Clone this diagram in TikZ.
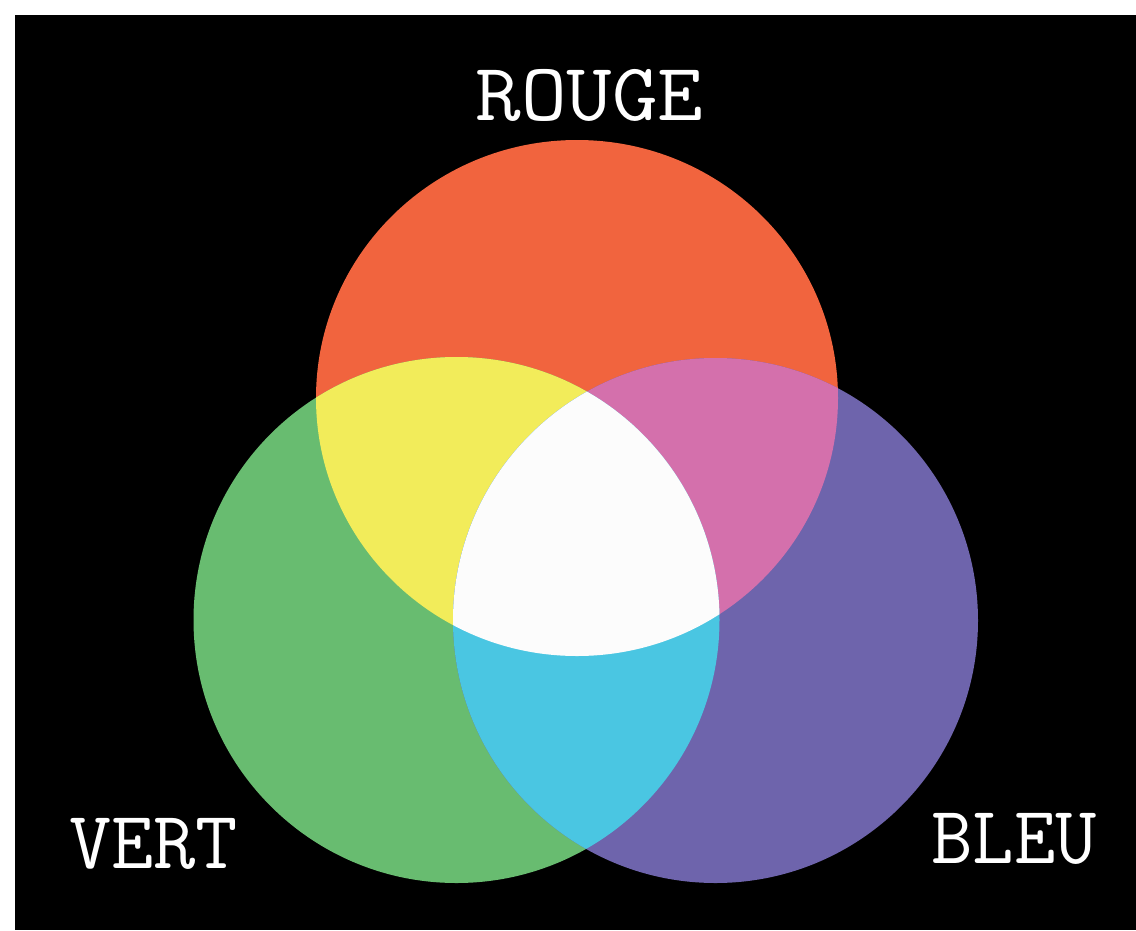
\documentclass[tikz,border=0pt]{standalone}
\usepackage{fontspec}
\begin{document}
\begin{tikzpicture}[x=1pt,y=-1pt,
  lbl/.style={text=white, inner sep=0pt, font={\ttfamily\fontsize{82}{90}\selectfont}, transform shape}]
\definecolor{cred}{RGB}{241,100,62}
\definecolor{cgreen}{RGB}{104,188,112}
\definecolor{cblue}{RGB}{110,100,172}
\definecolor{cyellow}{RGB}{242,236,90}
\definecolor{cmagenta}{RGB}{212,112,172}
\definecolor{ccyan}{RGB}{74,198,226}
\definecolor{cwhite}{RGB}{252,252,252}
\useasboundingbox (0,0) rectangle (1136,930);
\fill[white] (0,0) rectangle (1136,930);
\fill[black] (15,15) rectangle (1136,930);
\def\Rcirc{(577,398) ellipse [x radius=261, y radius=258]}
\def\Gcirc{(456.5,620) circle [radius=263]}
\def\Bcirc{(715.5,620.5) circle [radius=262.5]}
\fill[cred] \Rcirc;
\fill[cgreen] \Gcirc;
\fill[cblue] \Bcirc;
\begin{scope}
  \clip \Rcirc;
  \fill[cyellow] \Gcirc;
  \fill[cmagenta] \Bcirc;
\end{scope}
\begin{scope}
  \clip \Gcirc;
  \fill[ccyan] \Bcirc;
  \clip \Bcirc;
  \fill[cwhite] \Rcirc;
\end{scope}
\node[lbl, xscale=1.08] (rouge) at (589.5,95) {ROUGE};
\node[lbl, xscale=1.0] (vert) at (153.5,844) {VERT};
\node[lbl, xscale=0.98] (bleu) at (1014,838.5) {BLEU};
\end{tikzpicture}
\end{document}
